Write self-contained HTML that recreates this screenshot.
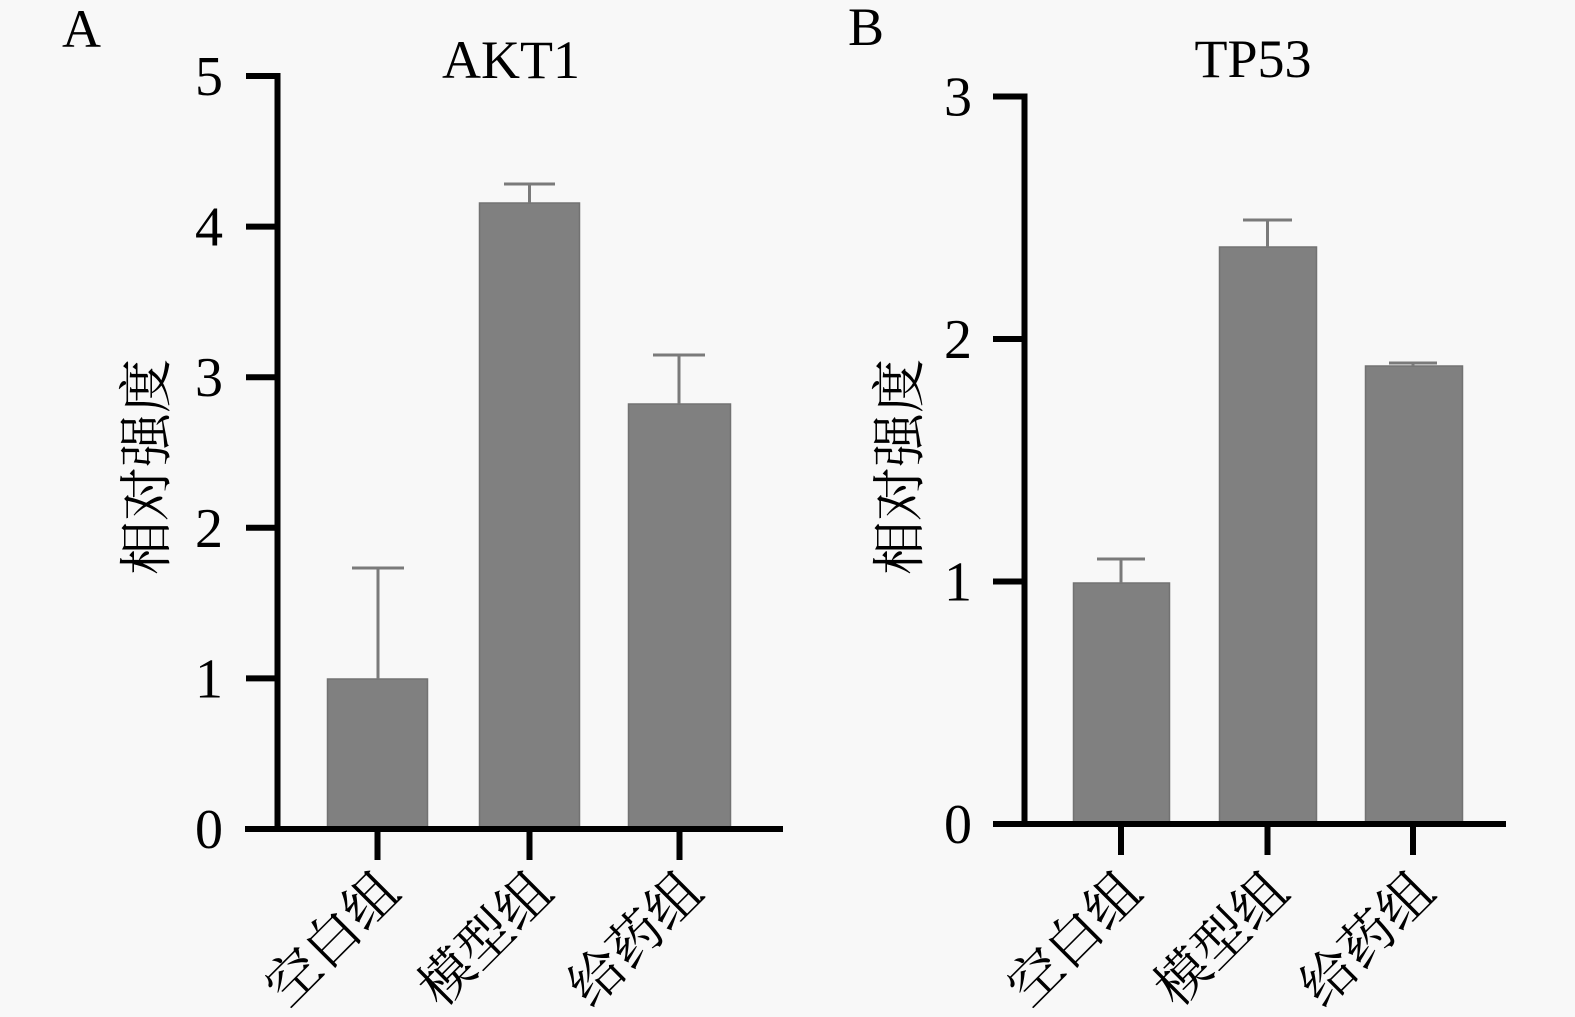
<!DOCTYPE html>
<html>
<head>
<meta charset="utf-8">
<style>
html,body{margin:0;padding:0;background:#f8f8f8;}
svg{display:block;}
.num{font-family:"Liberation Serif","Noto Serif CJK SC",serif;fill:#000;}
.cjk{font-family:"Liberation Serif","Noto Serif CJK SC","Noto Sans CJK SC",serif;fill:#000;}
</style>
</head>
<body>
<svg width="1575" height="1017" viewBox="0 0 1575 1017" xmlns="http://www.w3.org/2000/svg">
<rect x="0" y="0" width="1575" height="1017" fill="#f8f8f8"/>

<!-- ===== Panel A ===== -->
<text class="num" x="62" y="47" font-size="54">A</text>
<text class="num" x="511" y="78" font-size="54" text-anchor="middle">AKT1</text>

<!-- bars -->
<g fill="#808080" stroke="#727272" stroke-width="1.5">
  <rect x="327.5" y="679" width="100" height="150"/>
  <rect x="479.5" y="203" width="100" height="626"/>
  <rect x="628.5" y="404" width="102" height="425"/>
</g>
<!-- error bars -->
<g stroke="#7a7a7a" stroke-width="3" fill="none">
  <line x1="378" y1="679" x2="378" y2="568"/>
  <line x1="352" y1="568" x2="404" y2="568"/>
  <line x1="529.5" y1="203" x2="529.5" y2="184"/>
  <line x1="504" y1="184" x2="555" y2="184"/>
  <line x1="679" y1="404" x2="679" y2="355"/>
  <line x1="653" y1="355" x2="705" y2="355"/>
</g>

<!-- axes -->
<g stroke="#000" stroke-width="6" fill="none">
  <line x1="277.5" y1="73" x2="277.5" y2="832"/>
  <line x1="245" y1="829" x2="783" y2="829"/>
  <line x1="246" y1="76" x2="280" y2="76"/>
  <line x1="246" y1="226.6" x2="280" y2="226.6"/>
  <line x1="246" y1="377.2" x2="280" y2="377.2"/>
  <line x1="246" y1="527.8" x2="280" y2="527.8"/>
  <line x1="246" y1="678.4" x2="280" y2="678.4"/>
  <line x1="377.5" y1="829" x2="377.5" y2="860"/>
  <line x1="529.5" y1="829" x2="529.5" y2="860"/>
  <line x1="679.5" y1="829" x2="679.5" y2="860"/>
</g>

<!-- y tick labels -->
<g class="num" font-size="56" text-anchor="end">
  <text x="223" y="95">5</text>
  <text x="223" y="245.6">4</text>
  <text x="223" y="396.2">3</text>
  <text x="223" y="546.8">2</text>
  <text x="223" y="697.4">1</text>
  <text x="223" y="848">0</text>
</g>

<!-- y axis title -->
<text class="cjk" font-size="54" text-anchor="middle" dominant-baseline="central" transform="translate(147,467) rotate(-90)">相对强度</text>

<!-- x labels -->
<g class="cjk" font-size="54" text-anchor="end" dominant-baseline="central">
  <text transform="translate(390,882) rotate(-45)">空白组</text>
  <text transform="translate(543,882) rotate(-45)">模型组</text>
  <text transform="translate(693,882) rotate(-45)">给药组</text>
</g>

<!-- ===== Panel B ===== -->
<text class="num" x="848" y="45" font-size="54">B</text>
<text class="num" x="1253" y="77" font-size="54" text-anchor="middle">TP53</text>

<g fill="#808080" stroke="#727272" stroke-width="1.5">
  <rect x="1073.5" y="583" width="96" height="241"/>
  <rect x="1219.5" y="247" width="97" height="577"/>
  <rect x="1365.5" y="366" width="97" height="458"/>
</g>
<g stroke="#7a7a7a" stroke-width="3" fill="none">
  <line x1="1121" y1="583" x2="1121" y2="559"/>
  <line x1="1097" y1="559" x2="1145" y2="559"/>
  <line x1="1267.5" y1="247" x2="1267.5" y2="220"/>
  <line x1="1243" y1="220" x2="1292" y2="220"/>
  <line x1="1413" y1="366" x2="1413" y2="363"/>
  <line x1="1389" y1="363" x2="1437" y2="363"/>
</g>

<g stroke="#000" stroke-width="6" fill="none">
  <line x1="1024.5" y1="93.5" x2="1024.5" y2="827"/>
  <line x1="993" y1="824" x2="1506" y2="824"/>
  <line x1="993" y1="96.5" x2="1027" y2="96.5"/>
  <line x1="993" y1="339" x2="1027" y2="339"/>
  <line x1="993" y1="581.5" x2="1027" y2="581.5"/>
  <line x1="1121" y1="824" x2="1121" y2="855"/>
  <line x1="1267.5" y1="824" x2="1267.5" y2="855"/>
  <line x1="1413" y1="824" x2="1413" y2="855"/>
</g>

<g class="num" font-size="56" text-anchor="end">
  <text x="972" y="115.5">3</text>
  <text x="972" y="358">2</text>
  <text x="972" y="600.5">1</text>
  <text x="972" y="843">0</text>
</g>

<text class="cjk" font-size="54" text-anchor="middle" dominant-baseline="central" transform="translate(900,467) rotate(-90)">相对强度</text>

<g class="cjk" font-size="54" text-anchor="end" dominant-baseline="central">
  <text transform="translate(1132,882) rotate(-45)">空白组</text>
  <text transform="translate(1279,882) rotate(-45)">模型组</text>
  <text transform="translate(1425,882) rotate(-45)">给药组</text>
</g>
</svg>
</body>
</html>
